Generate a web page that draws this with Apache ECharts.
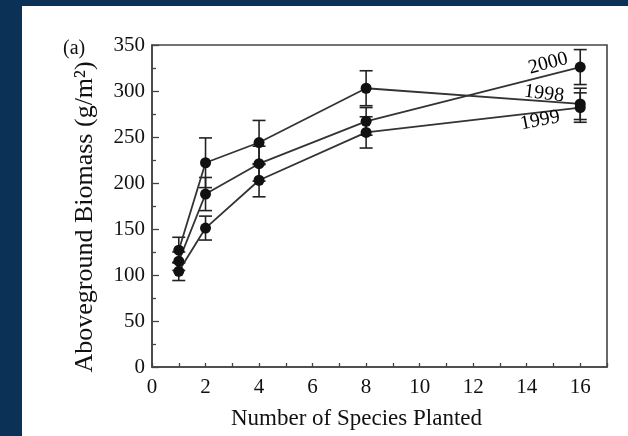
<!DOCTYPE html>
<html>
<head>
<meta charset="utf-8">
<script src="https://cdn.jsdelivr.net/npm/echarts@6/dist/echarts.min.js"></script>
<style>
  html, body { margin: 0; padding: 0; background: #0c3157; }
  body { width: 628px; height: 436px; position: relative; overflow: hidden; }
  #panel { position: absolute; left: 22px; top: 6px; width: 606px; height: 430px; background: #fff; }
  #chart { width: 606px; height: 430px; }
</style>
</head>
<body>
<div id="panel"><div id="chart"></div></div>
<script>
// Number of species planted per plot
const speciesPlanted = [1, 2, 4, 8, 16];

// Mean aboveground biomass (g/m²) per year
const biomass1998 = [127, 222, 244, 303, 286];
const biomass1999 = [104, 151, 203, 255, 282];
const biomass2000 = [115, 188, 221, 267, 326];

// Standard errors (g/m²)
const se1998 = [14, 27, 24, 19, 17];
const se1999 = [10, 13, 18, 17, 16];
const se2000 = [10, 18, 19, 15, 19];

const yearNames = ['1998', '1999', '2000'];
const yTicks = [0, 50, 100, 150, 200, 250, 300, 350];
const xTicks = [0, 2, 4, 6, 8, 10, 12, 14, 16];

const serif = 'Liberation Serif, Times New Roman, serif';
const ink = '#111';
const lineInk = '#333';

const yearSets = [
  { name: yearNames[0], mean: biomass1998, se: se1998 },
  { name: yearNames[1], mean: biomass1999, se: se1999 },
  { name: yearNames[2], mean: biomass2000, se: se2000 }
];

function errorBarItem(params, api) {
  const x = api.value(0);
  const lo = api.coord([x, api.value(1)]);
  const hi = api.coord([x, api.value(2)]);
  const half = 6.5;
  const style = { stroke: '#222', lineWidth: 1.6 };
  return {
    type: 'group',
    children: [
      { type: 'line', shape: { x1: lo[0], y1: lo[1], x2: hi[0], y2: hi[1] }, style },
      { type: 'line', shape: { x1: hi[0] - half, y1: hi[1], x2: hi[0] + half, y2: hi[1] }, style },
      { type: 'line', shape: { x1: lo[0] - half, y1: lo[1], x2: lo[0] + half, y2: lo[1] }, style }
    ]
  };
}

const series = [];
yearSets.forEach(set => {
  series.push({
    type: 'custom',
    name: set.name + ' SE',
    renderItem: errorBarItem,
    encode: { x: 0, y: [1, 2] },
    data: speciesPlanted.map((s, i) => [s, set.mean[i] - set.se[i], set.mean[i] + set.se[i]]),
    z: 2,
    silent: true
  });
});
yearSets.forEach(set => {
  series.push({
    type: 'line',
    name: set.name,
    data: speciesPlanted.map((s, i) => [s, set.mean[i]]),
    symbol: 'circle',
    symbolSize: 11,
    itemStyle: { color: ink },
    lineStyle: { color: lineInk, width: 1.8 },
    z: 3,
    animation: false
  });
});

// Year labels written along the line ends
const yearLabelPlacement = {
  '2000': { at: [14.8, 330], rotate: 15 },
  '1998': { at: [14.65, 297], rotate: -7 },
  '1999': { at: [14.5, 268], rotate: 11 }
};
series.push({
  type: 'scatter',
  name: 'year labels',
  symbolSize: 0,
  silent: true,
  z: 4,
  data: Object.keys(yearLabelPlacement).map(k => ({
    value: yearLabelPlacement[k].at,
    label: {
      show: true,
      position: 'inside',
      formatter: k,
      rotate: yearLabelPlacement[k].rotate,
      fontFamily: serif,
      fontSize: 20,
      color: '#000',
      opacity: 1
    }
  }))
});

const chart = echarts.init(document.getElementById('chart'), null, { renderer: 'canvas' });
chart.setOption({
  animation: false,
  backgroundColor: '#fff',
  grid: {
    left: 130, right: 21, top: 39, bottom: 69,
    show: true, borderColor: '#444', borderWidth: 1.6
  },
  xAxis: {
    type: 'value',
    min: 0, max: 17, interval: 1,
    name: 'Number of Species Planted',
    nameLocation: 'middle',
    nameGap: 40,
    nameTextStyle: { fontFamily: serif, fontSize: 23, color: ink, padding: [0, 46, 0, 0] },
    axisLine: { lineStyle: { color: '#444', width: 1.6 } },
    axisTick: { inside: true, length: 4, lineStyle: { color: '#444', width: 1.3 } },
    axisLabel: {
      fontFamily: serif, fontSize: 21, color: ink, margin: 10,
      formatter: v => (xTicks.indexOf(v) >= 0 ? String(v) : '')
    },
    splitLine: { show: false }
  },
  yAxis: {
    type: 'value',
    min: 0, max: 350, interval: 50,
    name: 'Aboveground Biomass (g/m²)',
    nameLocation: 'middle',
    nameGap: 54,
    nameTextStyle: { fontFamily: serif, fontSize: 26, color: ink, padding: [0, 22, 0, 0] },
    axisLine: { lineStyle: { color: '#444', width: 1.6 } },
    axisTick: { inside: true, length: 7, lineStyle: { color: '#444', width: 1.3 } },
    minorTick: { show: true, splitNumber: 2, length: 4, lineStyle: { color: '#444', width: 1.3 } },
    axisLabel: {
      fontFamily: serif, fontSize: 21, color: ink, margin: 7,
      formatter: v => (yTicks.indexOf(v) >= 0 ? String(v) : '')
    },
    splitLine: { show: false }
  },
  graphic: [{
    type: 'text',
    left: 41, top: 33,
    style: { text: '(a)', fontFamily: serif, fontSize: 20, fill: ink }
  }],
  series
});
</script>
</body>
</html>
